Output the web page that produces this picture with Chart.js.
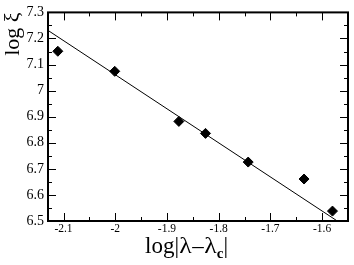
<!DOCTYPE html>
<html>
<head>
<meta charset="utf-8">
<script src="https://cdn.jsdelivr.net/npm/chart.js@4.4.0/dist/chart.umd.min.js"></script>
<style>
    html, body { margin: 0; padding: 0; background: #fff; }
    #wrap { position: relative; width: 354px; height: 265px; }
    #xtitle {
        position: absolute; left: 145px; top: 234px;
        font: 23px "Liberation Serif", serif; line-height: 1; white-space: nowrap; color: #000;
    }
    #xtitle .lam { display: inline-block; transform: scaleX(1.12); margin: 0 1px; }
    #xtitle .sub { position: relative; top: 5px; font-size: 15px; font-weight: bold; }
</style>
</head>
<body>
<div id="wrap">
    <canvas id="graph" width="354" height="265"></canvas>
    <div id="xtitle">log|<span class="lam">λ</span>–<span class="lam">λ</span><span class="sub">c</span>|</div>
</div>
<script>
// measured points (log|lambda - lambda_c|, log xi)
const xData = [-2.111, -2.001, -1.877, -1.8255, -1.743, -1.635, -1.580];
const yData = [7.151, 7.074, 6.882, 6.836, 6.726, 6.661, 6.538];

// straight-line fit drawn across the plot
const fitX = [-2.13, -1.5707];
const fitY = [7.231, 6.5];

const xTicks = [-2.1, -2.0, -1.9, -1.8, -1.7, -1.6];
const yTicks = [6.5, 6.6, 6.7, 6.8, 6.9, 7.0, 7.1, 7.2, 7.3];

const xMin = -2.13, xMax = -1.55;
const yMin = 6.5, yMax = 7.3;

function midpoints(arr, lo, hi) {
    let out = [];
    let step = arr[1] - arr[0];
    for (let i = -1; i < arr.length; i++) {
        let v = arr[0] + (i + 0.5) * step;
        if (v > lo + 1e-6 && v < hi - 1e-6) out.push(v);
    }
    return out;
}

// inward ticks on all four sides + the frame
const frameTicks = {
    id: 'frameTicks',
    afterDatasetsDraw(chart) {
        const ctx = chart.ctx, a = chart.chartArea;
        const x = chart.scales.x, y = chart.scales.y;
        ctx.save();
        ctx.strokeStyle = '#000';
        ctx.lineWidth = 1;
        ctx.beginPath();
        function xt(v, len) {
            let px = Math.round(x.getPixelForValue(v)) + 0.5;
            ctx.moveTo(px, a.bottom); ctx.lineTo(px, a.bottom - len);
            ctx.moveTo(px, a.top); ctx.lineTo(px, a.top + len);
        }
        function yt(v, len) {
            let py = Math.round(y.getPixelForValue(v)) + 0.5;
            ctx.moveTo(a.left, py); ctx.lineTo(a.left + len, py);
            ctx.moveTo(a.right, py); ctx.lineTo(a.right - len, py);
        }
        xTicks.forEach(v => xt(v, 8));
        midpoints(xTicks, xMin, xMax).forEach(v => xt(v, 4));
        yTicks.forEach(v => yt(v, 8));
        midpoints(yTicks, yMin, yMax).forEach(v => yt(v, 4));
        ctx.stroke();
        ctx.lineWidth = 2;
        ctx.strokeRect(a.left, a.top, a.right - a.left, a.bottom - a.top);
        ctx.restore();
    }
};

function fmt(v) {
    return String(+v.toFixed(2));
}

const graphCtx = document.getElementById('graph').getContext('2d');

new Chart(graphCtx, {
    type: 'scatter',
    data: {
        datasets: [
            {
                label: 'data',
                data: xData.map((v, i) => ({x: v, y: yData[i]})),
                pointStyle: 'rectRot',
                pointRadius: 5,
                borderWidth: 1,
                borderColor: '#000',
                backgroundColor: '#000',
                showLine: false
            },
            {
                label: 'fit',
                data: fitX.map((v, i) => ({x: v, y: fitY[i]})),
                showLine: true,
                pointRadius: 0,
                borderWidth: 1,
                borderColor: '#000',
                fill: false
            }
        ]
    },
    options: {
        responsive: false,
        animation: false,
        layout: {padding: {top: 6, right: 2, left: 0, bottom: 0}},
        plugins: {legend: {display: false}, tooltip: {enabled: false}},
        scales: {
            x: {
                type: 'linear',
                min: xMin,
                max: xMax,
                afterBuildTicks: s => { s.ticks = xTicks.map(v => ({value: v})); },
                afterFit: s => { s.height = 44; },
                grid: {display: false, drawTicks: false},
                border: {display: false},
                ticks: {
                    padding: 1,
                    color: '#000',
                    font: {family: 'Liberation Serif', size: 11.5},
                    maxRotation: 0,
                    callback: fmt
                }
            },
            y: {
                type: 'linear',
                min: yMin,
                max: yMax,
                afterBuildTicks: s => { s.ticks = yTicks.map(v => ({value: v})); },
                afterFit: s => { s.width = 48; },
                grid: {display: false, drawTicks: false},
                border: {display: false},
                ticks: {
                    padding: 4,
                    color: '#000',
                    font: {family: 'Liberation Serif', size: 14},
                    callback: fmt
                },
                title: {
                    display: true,
                    text: 'log ξ',
                    align: 'end',
                    color: '#000',
                    font: {family: 'Liberation Serif', size: 22},
                    padding: {top: 0, bottom: 0}
                }
            }
        }
    },
    plugins: [frameTicks]
});
</script>
</body>
</html>
